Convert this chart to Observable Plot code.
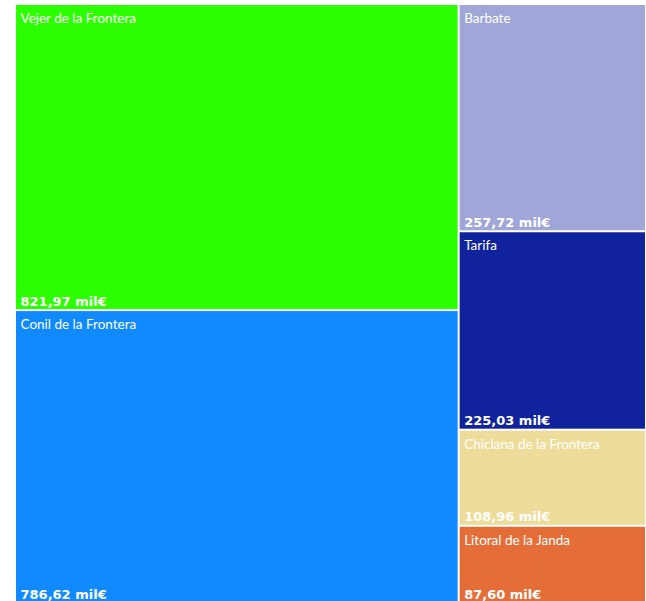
<!DOCTYPE html>
<html>
<head>
<meta charset="utf-8">
<script src="https://cdn.jsdelivr.net/npm/d3@7"></script>
<script src="https://cdn.jsdelivr.net/npm/@observablehq/plot@0.6"></script>
<style>
  html, body { margin: 0; padding: 0; background: #fff; overflow: hidden; }
</style>
</head>
<body>
<div id="chart"></div>
<script>
const names = ["Vejer de la Frontera", "Conil de la Frontera", "Barbate", "Tarifa", "Chiclana de la Frontera", "Litoral de la Janda"];
const values = [821.97, 786.62, 257.72, 225.03, 108.96, 87.60];
const colors = ["#2BFF00", "#118AFF", "#A0A7D8", "#10239C", "#EEDD9A", "#E56E38"];

const W = 629, H = 597;
const root = d3.hierarchy({children: names.map((n, i) => ({name: n, value: values[i], color: colors[i]}))})
  .sum(d => d.value || 0)
  .sort((a, b) => b.value - a.value);
d3.treemap().tile(d3.treemapSquarify).size([W, H]).paddingInner(2)(root);
const leaves = root.leaves().map(l => ({...l.data, x0: l.x0, x1: l.x1, y0: l.y0, y1: l.y1}));

const fmt = v => v.toFixed(2).replace(".", ",") + " mil€";

const chart = Plot.plot({
  width: 646,
  height: 603,
  marginLeft: 16,
  marginRight: 1,
  marginTop: 5,
  marginBottom: 1,
  x: {domain: [0, W], axis: null},
  y: {domain: [0, H], reverse: true, axis: null},
  style: {fontFamily: "Lato, sans-serif", background: "white"},
  marks: [
    Plot.rect(leaves, {x1: "x0", x2: "x1", y1: "y0", y2: "y1", fill: d => d.color}),
    Plot.text(leaves, {x: "x0", y: "y0", text: "name", textAnchor: "start", lineAnchor: "top", dx: 4, dy: 8, fill: "white", fontSize: 13.5}),
    Plot.text(leaves, {x: "x0", y: "y1", text: d => fmt(d.value), textAnchor: "start", lineAnchor: "bottom", dx: 4, dy: -4, fill: "white", fontSize: 13, fontWeight: "bold", fontFamily: "'DejaVu Sans', sans-serif"})
  ]
});
document.getElementById("chart").appendChild(chart);
</script>
</body>
</html>
